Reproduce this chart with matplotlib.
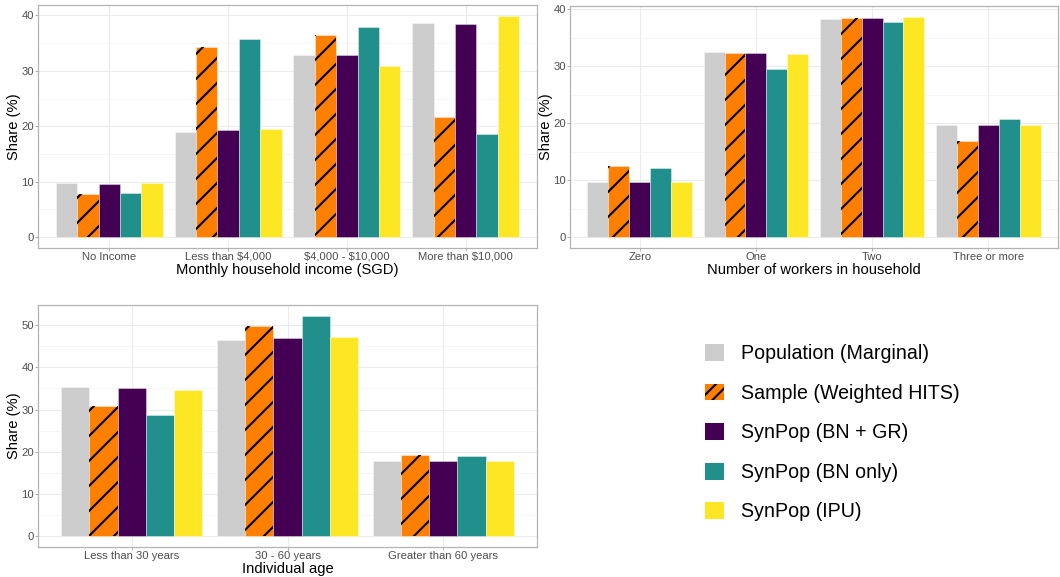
import matplotlib
matplotlib.use("Agg")
import matplotlib.pyplot as plt
from matplotlib.patches import Patch
from matplotlib.ticker import MultipleLocator
import numpy as np

plt.rcParams['font.family'] = ['Liberation Sans', 'DejaVu Sans']
plt.rcParams['hatch.linewidth'] = 1.0
plt.rcParams['text.parse_math'] = False

series = ["Population (Marginal)", "Sample (Weighted HITS)", "SynPop (BN + GR)",
          "SynPop (BN only)", "SynPop (IPU)"]
colors = ["#CCCCCC", "#FF7F00", "#440154", "#21908C", "#FDE725"]

income_cats = ["No Income", "Less than $4,000", "$4,000 - $10,000", "More than $10,000"]
income_pop = [9.7, 19.0, 32.8, 38.7]
income_sample = [7.7, 34.3, 36.5, 21.7]
income_bngr = [9.6, 19.3, 32.8, 38.4]
income_bn = [8.0, 35.7, 37.9, 18.6]
income_ipu = [9.8, 19.5, 30.9, 39.9]

workers_cats = ["Zero", "One", "Two", "Three or more"]
workers_pop = [9.7, 32.4, 38.2, 19.6]
workers_sample = [12.4, 32.3, 38.5, 16.9]
workers_bngr = [9.6, 32.3, 38.4, 19.7]
workers_bn = [12.1, 29.5, 37.7, 20.7]
workers_ipu = [9.7, 32.1, 38.6, 19.6]

age_cats = ["Less than 30 years", "30 - 60 years", "Greater than 60 years"]
age_pop = [35.3, 46.6, 17.9]
age_sample = [30.8, 49.8, 19.3]
age_bngr = [35.1, 46.9, 17.8]
age_bn = [28.6, 52.2, 19.1]
age_ipu = [34.7, 47.3, 17.9]

W, H, DPI = 1060, 577, 150
fig = plt.figure(figsize=(W / DPI, H / DPI), dpi=DPI)

TICK_PT = 5.4
TITLE_PT = 7.1
LEG_PT = 9.4


def panel(rect, cats, data, xlabel, major, minor):
    ax = fig.add_axes(rect)
    n = len(cats)
    x = np.arange(1, n + 1)
    bw = 0.9 / len(data)
    for i, (vals, col) in enumerate(zip(data, colors)):
        off = (i - (len(data) - 1) / 2) * bw
        ax.bar(x + off, vals, width=bw, color=col, edgecolor=(1, 1, 1, 0.45),
               linewidth=0.4, zorder=2)
        if i == 1:
            ax.bar(x + off, vals, width=bw, facecolor='none', edgecolor='black',
                   linewidth=0, hatch='//', zorder=3)
    ymax = max(max(v) for v in data)
    ax.set_ylim(-0.05 * ymax, 1.05 * ymax)
    ax.set_xlim(0.4, n + 0.6)
    ax.set_xticks(x)
    ax.set_xticklabels(cats)
    ax.yaxis.set_major_locator(MultipleLocator(major))
    ax.yaxis.set_minor_locator(MultipleLocator(minor))
    ax.grid(which='major', color='#EBEBEB', linewidth=0.5, zorder=0)
    ax.grid(which='minor', axis='y', color='#F3F3F3', linewidth=0.35, zorder=0)
    ax.set_axisbelow(True)
    for s in ax.spines.values():
        s.set_color('#B3B3B3')
        s.set_linewidth(0.6)
    ax.tick_params(axis='both', which='major', labelsize=TICK_PT, colors='#B3B3B3',
                   labelcolor='#4D4D4D', length=1.5, width=0.5, pad=0.3)
    ax.tick_params(axis='x', which='major', pad=0.4)
    ax.tick_params(axis='y', which='minor', length=0)
    ax.set_xlabel(xlabel, fontsize=TITLE_PT, color='black', labelpad=0.3)
    ax.set_ylabel("Share (%)", fontsize=TITLE_PT, color='black', labelpad=0.4)
    return ax


panel([38 / W, 1 - 248 / H, 499 / W, 243 / H], income_cats,
      [income_pop, income_sample, income_bngr, income_bn, income_ipu],
      "Monthly household income (SGD)", 10, 5)
panel([570 / W, 1 - 248 / H, 488 / W, 242 / H], workers_cats,
      [workers_pop, workers_sample, workers_bngr, workers_bn, workers_ipu],
      "Number of workers in household", 10, 5)
panel([38 / W, 1 - 547 / H, 499 / W, 242 / H], age_cats,
      [age_pop, age_sample, age_bngr, age_bn, age_ipu],
      "Individual age", 10, 5)

handles = []
for i, (lab, col) in enumerate(zip(series, colors)):
    if i == 1:
        handles.append(Patch(facecolor=col, edgecolor='black', linewidth=0, hatch='////', label=lab))
    else:
        handles.append(Patch(facecolor=col, edgecolor='none', linewidth=0, label=lab))

fig.legend(handles=handles, loc='upper left', bbox_to_anchor=(705 / W, 1 - 344 / H),
           frameon=False, fontsize=LEG_PT, handlelength=0.95, handleheight=0.95,
           handletextpad=0.9, labelspacing=1.04, borderpad=0, borderaxespad=0)

fig.savefig("out.png", dpi=DPI)
